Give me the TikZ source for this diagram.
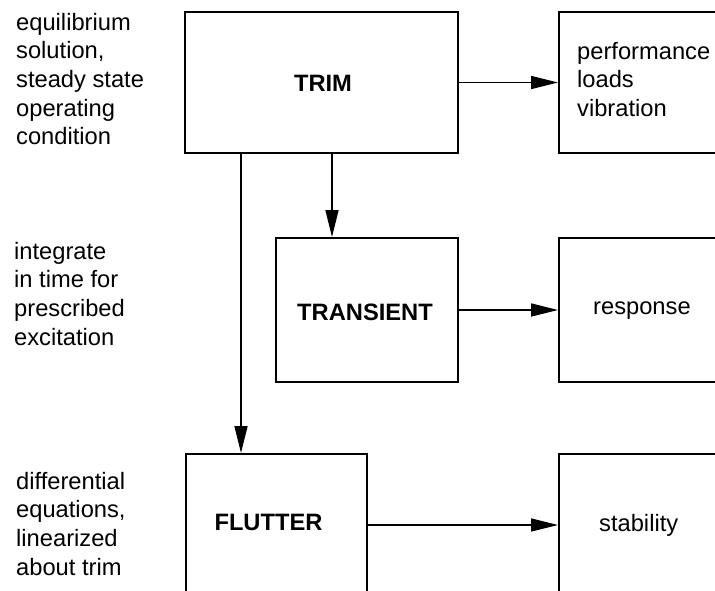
\documentclass[tikz,border=0pt]{standalone}
\usepackage{fontspec}
\setmainfont{Liberation Sans}
\usetikzlibrary{arrows.meta}
\begin{document}
\begin{tikzpicture}[x=1pt,y=-1pt,
  box/.style={draw,line width=2pt,inner sep=0pt},
  arr/.style={line width=1.7pt,-{Triangle[length=27pt,width=13pt]}},
  lbl/.style={inner sep=0pt,align=left,font=\fontsize{23.7}{28.6}\selectfont},
  head/.style={inner sep=0pt,font=\fontsize{23.7}{28.6}\selectfont\bfseries}]
\useasboundingbox (0,0) rectangle (715,591);
\clip (0,0) rectangle (715,591);
% boxes
\node[box,minimum width=273pt,minimum height=141pt] (trim) at (321.5,82.5) {};
\node[box,minimum width=241pt,minimum height=141pt] (perf) at (679.5,82.5) {};
\node[box,minimum width=182pt,minimum height=144pt] (transient) at (367,310) {};
\node[box,minimum width=241pt,minimum height=144pt] (resp) at (679.5,310) {};
\node[box,minimum width=181pt,minimum height=142pt] (flutter) at (276.5,525) {};
\node[box,minimum width=241pt,minimum height=142pt] (stab) at (679.5,525) {};
% box labels
\node[head] (trimlbl) at (323,83) {TRIM};
\node[head] (translbl) at (365,312) {TRANSIENT};
\node[head] (flutlbl) at (268.5,522.5) {FLUTTER};
\node[lbl,anchor=north west] (perflbl) at (577,42) {performance\\loads\\vibration};
\node[lbl,anchor=base west] (resplbl) at (593,314) {response};
\node[lbl,anchor=base west] (stablbl) at (599,531) {stability};
% side notes
\node[lbl,anchor=north west] (note1) at (16,13) {equilibrium\\solution,\\steady state\\operating\\condition};
\node[lbl,anchor=north west] (note2) at (14,242) {integrate\\in time for\\prescribed\\excitation};
\node[lbl,anchor=north west] (note3) at (16,472) {differential\\equations,\\linearized\\about trim};
% connectors
\coordinate (xa) at (332,0);
\coordinate (xb) at (241,0);
\draw[arr] (trim.east) -- (perf.west);
\draw[arr] (transient.east) -- (resp.west);
\draw[arr] (flutter.east) -- (stab.west);
\draw[arr] (trim.south -| xa) -- (transient.north -| xa);
\draw[arr] (trim.south -| xb) -- (flutter.north -| xb);
\end{tikzpicture}
\end{document}
